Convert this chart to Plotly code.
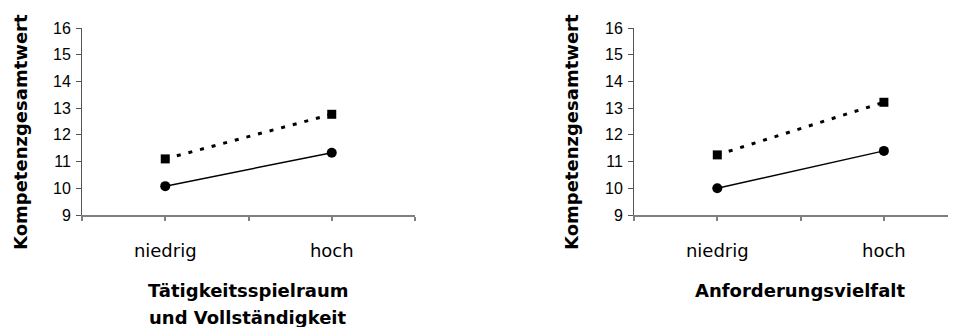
import plotly.graph_objects as go

# category positions on the x axis (niedrig, hoch)
categories = ['niedrig', 'hoch']
cat_pos = [1, 3]

# left panel: Tätigkeitsspielraum und Vollständigkeit
left_dashed = [11.1, 12.77]
left_solid = [10.08, 11.33]

# right panel: Anforderungsvielfalt
right_dashed = [11.25, 13.22]
right_solid = [10.0, 11.4]

y_ticks = [9, 10, 11, 12, 13, 14, 15, 16]

# page has an 8px body margin, so the figure is a bit smaller and shifted
OFF = 8
W, H = 956 - OFF, 327 - OFF
AXIS_GREY = '#808080'
TICK_FONT = dict(family='Liberation Sans', size=16, color='black')
CAT_FONT = dict(family='DejaVu Sans', size=18, color='black')
TITLE_FONT = dict(family='DejaVu Sans', size=18, color='black', weight='bold')


def px_x(p):
    return (p - OFF) / W


def px_y(p):
    return 1 - (p - OFF) / H


fig = go.Figure()

right_max = (956 - 634) / 83.3

panels = [
    ('', '', left_dashed, left_solid),
    ('3', '2', right_dashed, right_solid),
]

for xs, ys, dashed, solid in panels:
    xa = 'x' + xs
    ya = 'y' + ys
    fig.add_trace(go.Scatter(
        x=cat_pos, y=dashed, xaxis=xa, yaxis=ya, mode='lines+markers',
        line=dict(color='black', width=3, dash='4px,8px'),
        marker=dict(symbol='square', size=9, color='black'),
        showlegend=False, cliponaxis=False))
    fig.add_trace(go.Scatter(
        x=cat_pos, y=solid, xaxis=xa, yaxis=ya, mode='lines+markers',
        line=dict(color='black', width=1.5),
        marker=dict(symbol='circle', size=10, color='black'),
        showlegend=False, cliponaxis=False))

y_dom = [px_y(215), px_y(28)]

common_x = dict(
    tickmode='array', tickvals=[0, 1, 2, 3, 4], ticktext=['', 'niedrig', '', 'hoch', ''],
    ticks='outside', ticklen=4, tickwidth=1.5, tickcolor=AXIS_GREY,
    showline=True, linecolor=AXIS_GREY, linewidth=2, showgrid=False, zeroline=False,
    tickfont=CAT_FONT, ticklabelstandoff=14, fixedrange=True, automargin=False,
)
common_x_inside = dict(
    tickmode='array', tickvals=[0, 1, 2, 3, 4], showticklabels=False,
    ticks='inside', ticklen=7, tickwidth=1.5, tickcolor=AXIS_GREY,
    showline=False, showgrid=False, zeroline=False, fixedrange=True, automargin=False,
)
common_y = dict(
    range=[9, 16], tickvals=y_ticks, ticks='outside', ticklen=5, tickwidth=1,
    tickcolor='#555555', showline=True, linecolor='#555555', linewidth=1,
    showgrid=False, zeroline=False, tickfont=TICK_FONT, ticklabelstandoff=2,
    fixedrange=True, domain=y_dom, automargin=False,
)

fig.update_layout(
    template='none',
    width=W, height=H,
    margin=dict(l=0, r=0, t=0, b=0, pad=0),
    paper_bgcolor='white', plot_bgcolor='white',
    xaxis=dict(common_x, domain=[px_x(82), px_x(415)], range=[0, 4], anchor='y'),
    yaxis=dict(common_y, anchor='x'),
    xaxis2=dict(common_x_inside, domain=[px_x(82), px_x(415)], range=[0, 4],
                anchor='y', overlaying='x'),
    xaxis3=dict(common_x, domain=[px_x(634), 1], range=[0, right_max], anchor='y2'),
    yaxis2=dict(common_y, anchor='x3'),
    xaxis4=dict(common_x_inside, domain=[px_x(634), 1], range=[0, right_max],
                anchor='y2', overlaying='x3'),
)

# axis titles as annotations for exact placement
for x_c in [20, 571]:
    fig.add_annotation(x=px_x(x_c), y=px_y(132), xref='paper', yref='paper',
                       text='Kompetenzgesamtwert', textangle=-90, showarrow=False,
                       font=TITLE_FONT, xanchor='center', yanchor='middle')

for text, x_c, y_c in [('Tätigkeitsspielraum', 248, 290),
                       ('und Vollständigkeit', 248, 317),
                       ('Anforderungsvielfalt', 800, 290)]:
    fig.add_annotation(x=px_x(x_c), y=px_y(y_c), xref='paper', yref='paper',
                       text=text, showarrow=False, font=TITLE_FONT,
                       xanchor='center', yanchor='middle')

fig.write_html('out.html')
